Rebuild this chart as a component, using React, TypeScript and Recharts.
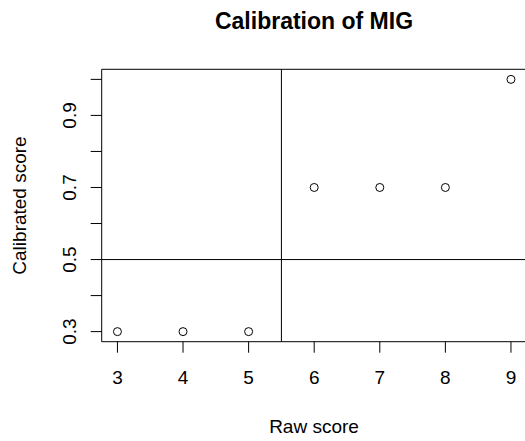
import {
  ReferenceArea,
  ReferenceLine,
  Scatter,
  ScatterChart,
  XAxis,
  YAxis,
} from 'recharts';

const rawScores = [3, 4, 5, 6, 7, 8, 9];
const calibrated = [0.3, 0.3, 0.3, 0.7, 0.7, 0.7, 1.0];
const xTicks = [3, 4, 5, 6, 7, 8, 9];
const yTicks = [0.3, 0.4, 0.5, 0.6, 0.7, 0.8, 0.9, 1.0];
const yLabelled = [0.3, 0.5, 0.7, 0.9];
const xDomain = [2.76, 9.24];
const yDomain = [0.272, 1.028];
const cutX = 5.5;
const cutY = 0.5;

const points = rawScores.map((x, i) => ({ x, y: calibrated[i] }));

const FONT = '"Liberation Sans", Arial, sans-serif';

function YTick(props: any) {
  const { x, y, payload } = props;
  if (!yLabelled.some((v) => Math.abs(v - payload.value) < 1e-9)) return null;
  const tx = x - 13;
  return (
    <text
      x={tx}
      y={y}
      transform={`rotate(-90, ${tx}, ${y})`}
      textAnchor="middle"
      fontSize={19}
      fontFamily={FONT}
      fill="#000"
    >
      {payload.value.toFixed(1)}
    </text>
  );
}

function Ring(props: any) {
  const { cx, cy } = props;
  return <circle cx={cx} cy={cy} r={4} fill="none" stroke="#000" strokeWidth={1} />;
}

export default function App() {
  return (
    <div style={{ position: 'absolute', left: 0, top: 0, width: 525, height: 441, background: '#fff' }}>
      <ScatterChart
        width={525}
        height={441}
        margin={{ top: 69.3, right: -1.7, bottom: 39.3, left: 41.7 }}
      >
        <XAxis
          type="number"
          dataKey="x"
          domain={xDomain}
          ticks={xTicks}
          height={60}
          axisLine={false}
          tickSize={11}
          tickMargin={18}
          tickLine={{ stroke: '#000' }}
          tick={{ fontSize: 19, fontFamily: FONT, fill: '#000' }}
          allowDataOverflow
        />
        <YAxis
          type="number"
          dataKey="y"
          domain={yDomain}
          ticks={yTicks}
          width={60}
          axisLine={false}
          tickSize={11}
          tickLine={{ stroke: '#000' }}
          tick={<YTick />}
          allowDataOverflow
        />
        <ReferenceArea
          x1={xDomain[0]}
          x2={xDomain[1]}
          y1={yDomain[0]}
          y2={yDomain[1]}
          fill="none"
          stroke="#000"
          strokeWidth={1}
          ifOverflow="visible"
        />
        <ReferenceLine x={cutX} stroke="#000" strokeWidth={1} />
        <ReferenceLine y={cutY} stroke="#000" strokeWidth={1} />
        <Scatter data={points} shape={<Ring />} isAnimationActive={false} />
        <text x={314} y={29} textAnchor="middle" fontSize={23} fontWeight="bold" fontFamily={FONT} fill="#000">
          Calibration of MIG
        </text>
        <text x={314} y={433} textAnchor="middle" fontSize={19} fontFamily={FONT} fill="#000">
          Raw score
        </text>
        <text
          x={26}
          y={205.5}
          transform="rotate(-90, 26, 205.5)"
          textAnchor="middle"
          fontSize={19}
          fontFamily={FONT}
          fill="#000"
        >
          Calibrated score
        </text>
      </ScatterChart>
    </div>
  );
}
